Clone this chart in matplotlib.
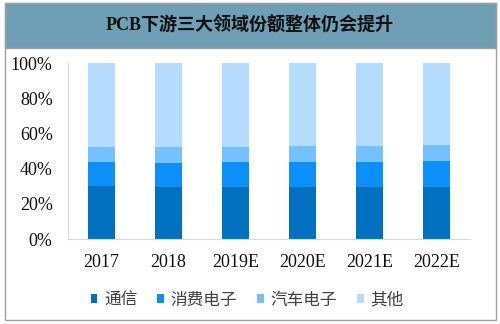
import matplotlib
matplotlib.use("Agg")
import matplotlib.pyplot as plt
from matplotlib.patches import Rectangle
import numpy as np

categories = ["2017", "2018", "2019E", "2020E", "2021E", "2022E"]
series_names = ["通信", "消费电子", "汽车电子", "其他"]
comm = [30.2, 29.8, 29.8, 29.8, 29.8, 29.8]
consumer = [13.4, 13.3, 13.8, 13.8, 13.8, 14.6]
auto = [8.8, 9.3, 8.8, 9.3, 9.3, 8.9]
other = [100 - a - b - c for a, b, c in zip(comm, consumer, auto)]
colors = ["#0070c0", "#0d8ffa", "#75c1ff", "#b4dcff"]
title = "PCB下游三大领域份额整体仍会提升"
yticks = [0, 20, 40, 60, 80, 100]

cjk = ["Noto Sans CJK SC", "DejaVu Sans"]
serif = ["Liberation Serif", "Noto Sans CJK SC"]

fig = plt.figure(figsize=(5.0, 3.24), dpi=100)
W, H = 500, 324

def fx(px):
    return px / W

def fy(py):
    return 1 - py / H

# outer border
fig.patches.append(Rectangle((fx(5), fy(320)), fx(496) - fx(5), fy(3) - fy(320),
                             transform=fig.transFigure, fill=False,
                             edgecolor="#a0a0a0", linewidth=1.0, zorder=0))
# title band
fig.patches.append(Rectangle((fx(5), fy(48)), fx(496) - fx(5), fy(3) - fy(48),
                             transform=fig.transFigure, facecolor="#6e9fb4",
                             edgecolor="#a0a0a0", linewidth=1.0, zorder=1))
fig.text(0.5, fy(26), title, ha="center", va="center", fontsize=13,
         fontweight="bold", family=["Liberation Serif", "Noto Sans CJK SC"],
         color="#111111")

ax = fig.add_axes([fx(68), fy(239), fx(470) - fx(68), fy(63.3) - fy(239)])
x = np.arange(len(categories))
bottom = np.zeros(len(categories))
for name, vals, c in zip(series_names, [comm, consumer, auto, other], colors):
    ax.bar(x, vals, width=0.4, bottom=bottom, color=c, label=name, linewidth=0)
    bottom += np.array(vals)

ax.set_xlim(-0.5, len(categories) - 0.5)
ax.set_ylim(0, 100)
ax.set_yticks(yticks)
ax.set_yticklabels([f"{v}%" for v in yticks], family=serif, fontsize=13)
ax.set_xticks(x)
ax.set_xticklabels(categories, family=serif, fontsize=13)
ax.tick_params(length=0, pad=11, colors="#111111")
for s in ["top", "right"]:
    ax.spines[s].set_visible(False)
ax.spines["left"].set_color("#d9d9d9")
ax.spines["bottom"].set_color("#d9d9d9")

leg = fig.legend(loc="center", bbox_to_anchor=(fx(247), fy(300)), ncol=4,
                 frameon=False, prop={"family": cjk, "size": 12},
                 handlelength=0.4, handleheight=0.4, handletextpad=0.4,
                 columnspacing=1.2, labelcolor="#404040")

fig.savefig("out.png", dpi=100)
